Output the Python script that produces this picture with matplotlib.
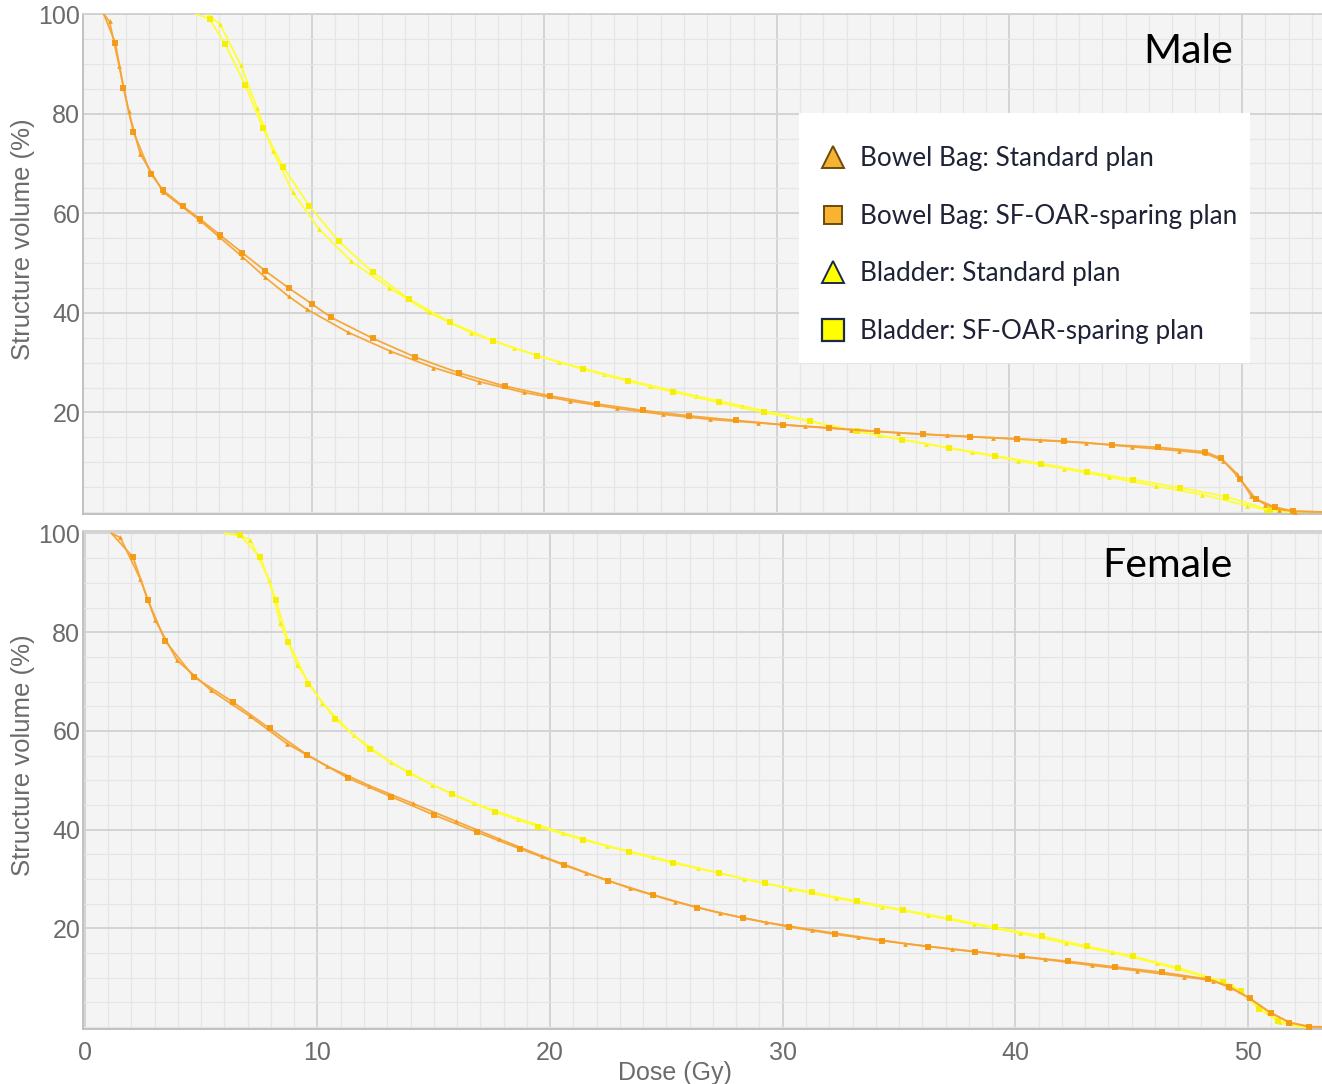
import matplotlib.pyplot as plt
from matplotlib.lines import Line2D
from matplotlib.patches import Rectangle
from matplotlib.ticker import MultipleLocator

# Dose-volume histograms (dose in Gy, volume in %)

# Male - Bowel Bag, standard plan
male_bowel_std_dose = [1.05, 1.3, 1.72, 2.12, 2.62, 3.62, 5.2, 6.0, 7.0, 8.0, 9.0, 9.79, 11.55, 13.37,
                       15.23, 17.17, 19.13, 21.1, 23.12, 25.12, 27.13, 29.2, 31.2, 33.2, 35.2, 37.3,
                       39.3, 41.3, 43.3, 45.26, 47.29, 48.4, 49.2, 49.8, 50.4, 51.0, 51.6, 52.3, 53.5]
male_bowel_std_vol = [100, 98.5, 89.5, 80.5, 71.9, 64.2, 58.5, 55.3, 51.3, 47.1, 43.3, 40.7, 36.1, 32.3,
                      29.0, 26.2, 24.0, 22.3, 20.8, 19.6, 18.6, 17.9, 17.2, 16.5, 15.9, 15.4,
                      14.9, 14.4, 13.9, 13.1, 12.3, 11.8, 10.3, 7.6, 3.2, 1.5, 0.5, 0.1, 0.0]

# Male - Bowel Bag, SF-OAR-sparing plan
male_bowel_sf_dose = [1.05, 1.55, 1.9, 2.33, 3.08, 3.6, 4.46, 5.2, 6.03, 7.0, 8.0, 9.0, 10.0, 10.82,
                      12.61, 14.45, 16.35, 18.29, 20.25, 22.26, 24.23, 26.24, 28.25, 30.28, 32.26,
                      34.29, 36.3, 38.3, 40.34, 42.36, 44.4, 46.37, 48.4, 49.1, 49.9, 50.6, 51.4,
                      52.2, 53.5]
male_bowel_sf_vol = [100, 94.2, 85.2, 76.3, 67.9, 64.6, 61.4, 58.8, 55.7, 52.1, 48.4, 45.0, 41.8, 39.1,
                     34.9, 31.1, 27.9, 25.3, 23.3, 21.7, 20.4, 19.3, 18.4, 17.5, 16.9,
                     16.2, 15.6, 15.1, 14.7, 14.2, 13.5, 13.0, 12.1, 10.8, 6.7, 2.6, 1.0,
                     0.2, 0.0]

# Male - Bladder, standard plan
male_bladder_std_dose = [5.5, 6.06, 6.95, 7.64, 8.33, 9.17, 10.29, 11.68, 13.34, 15.02, 16.84, 18.71,
                         20.65, 22.58, 24.55, 26.53, 28.49, 30.45, 32.43, 34.39, 36.4, 38.38, 40.36,
                         42.35, 44.3, 46.3, 48.27, 50.2, 51.0, 52.0, 53.5]
male_bladder_std_vol = [100, 97.9, 89.7, 81.2, 72.5, 64.3, 56.9, 50.4, 45.0, 40.1, 36.0, 32.9,
                        30.1, 27.7, 25.4, 23.3, 21.3, 19.3, 17.2, 15.4, 13.7, 12.0, 10.3,
                        8.7, 7.0, 5.2, 3.5, 1.3, 0.5, 0.0, 0.0]

# Male - Bladder, SF-OAR-sparing plan
male_bladder_sf_dose = [5.0, 5.6, 6.28, 7.14, 7.88, 8.78, 9.89, 11.15, 12.61, 14.2, 15.95, 17.79, 19.7,
                        21.65, 23.59, 25.55, 27.49, 29.46, 31.43, 33.43, 35.4, 37.4, 39.38, 41.36,
                        43.35, 45.33, 47.33, 49.3, 51.2, 52.2, 53.5]
male_bladder_sf_vol = [100, 99.0, 93.9, 85.7, 77.2, 69.2, 61.5, 54.4, 48.2, 42.7, 38.1, 34.4, 31.4,
                       28.7, 26.3, 24.1, 22.0, 20.0, 18.2, 16.2, 14.5, 12.9, 11.3, 9.7,
                       8.1, 6.5, 4.9, 3.1, 0.4, 0.0, 0.0]

# Female - Bowel Bag, standard plan
female_bowel_std_dose = [1.15, 1.52, 2.38, 3.03, 3.96, 5.43, 7.08, 8.69, 10.43, 12.23, 14.1, 15.95, 17.81,
                         19.67, 21.53, 23.44, 25.37, 27.3, 29.28, 31.25, 33.25, 35.26, 37.26, 39.24,
                         41.27, 43.28, 45.24, 47.25, 48.5, 49.22, 50.0, 50.9, 51.8, 52.73, 53.5]
female_bowel_std_vol = [100, 99.2, 90.8, 82.4, 74.3, 68.2, 63.0, 57.4, 52.8, 48.9, 45.3, 41.7, 38.1,
                        34.6, 31.3, 28.1, 25.4, 23.1, 21.2, 19.7, 18.3, 16.9, 15.8, 14.7,
                        13.7, 12.5, 11.4, 10.2, 9.4, 8.0, 6.0, 3.1, 0.9, 0.0, 0.0]

# Female - Bowel Bag, SF-OAR-sparing plan
female_bowel_sf_dose = [1.15, 2.07, 2.71, 3.46, 4.67, 6.35, 7.94, 9.57, 11.33, 13.15, 14.99, 16.85, 18.71,
                        20.6, 22.5, 24.41, 26.33, 28.28, 30.28, 32.25, 34.25, 36.26, 38.26, 40.27,
                        42.27, 44.28, 46.29, 48.26, 49.2, 50.08, 51.0, 51.77, 52.6, 53.5]
female_bowel_sf_vol = [100, 95.2, 86.5, 78.2, 71.0, 65.9, 60.5, 55.1, 50.4, 46.7, 43.0, 39.5, 36.1,
                       32.8, 29.6, 26.8, 24.2, 22.1, 20.3, 18.8, 17.5, 16.3, 15.3, 14.3,
                       13.3, 12.2, 11.1, 9.7, 8.2, 5.8, 2.8, 0.9, 0.1, 0.0]

# Female - Bladder, standard plan
female_bladder_std_dose = [6.03, 6.68, 7.11, 7.93, 8.4, 9.14, 10.19, 11.55, 13.15, 14.92, 16.74, 18.64,
                           20.57, 22.46, 24.44, 26.37, 28.35, 30.31, 32.29, 34.25, 36.26, 38.22, 40.2,
                           42.17, 44.14, 46.1, 48.05, 49.3, 50.04, 51.37, 52.2, 53.5]
female_bladder_std_vol = [100, 99.6, 98.7, 90.5, 81.8, 73.3, 65.7, 59.1, 53.6, 49.1, 45.3, 42.2,
                          39.3, 36.7, 34.4, 32.2, 30.0, 28.0, 26.1, 24.4, 22.6, 20.8, 19.0,
                          17.0, 15.1, 12.9, 10.3, 8.5, 5.8, 1.1, 0.0, 0.0]

# Female - Bladder, SF-OAR-sparing plan
female_bladder_sf_dose = [6.03, 6.68, 7.54, 8.21, 8.75, 9.61, 10.76, 12.26, 13.95, 15.78, 17.61, 19.5,
                          21.43, 23.37, 25.3, 27.27, 29.24, 31.25, 33.2, 35.18, 37.16, 39.12, 41.13,
                          43.07, 45.07, 47.0, 48.94, 49.7, 50.48, 51.3, 52.23, 53.5]
female_bladder_sf_vol = [100, 99.6, 95.2, 86.6, 78.0, 69.6, 62.4, 56.3, 51.4, 47.2, 43.6, 40.6,
                         37.9, 35.5, 33.2, 31.2, 29.1, 27.3, 25.5, 23.7, 22.0, 20.2, 18.4,
                         16.4, 14.3, 12.0, 9.15, 7.2, 3.6, 1.2, 0.0, 0.0]

legend_labels = ["Bowel Bag: Standard plan", "Bowel Bag: SF-OAR-sparing plan",
                 "Bladder: Standard plan", "Bladder: SF-OAR-sparing plan"]
y_ticks = [20, 40, 60, 80, 100]
x_ticks = [0, 10, 20, 30, 40, 50]

# colours
orange_line = '#F7A535'
orange_mark = '#F39A10'
yellow_line = '#FFFF2E'
yellow_mark = '#F6EE00'
tick_grey = '#6b6b6b'

plt.rcParams['font.family'] = ['Liberation Sans', 'DejaVu Sans']

W, H = 1322, 1084
fig = plt.figure(figsize=(W / 100, H / 100), dpi=100)
ax_top = fig.add_axes([83 / W, (H - 514) / H, 1 - 83 / W, 500 / H])
ax_bot = fig.add_axes([83 / W, (H - 1028.5) / H, 1 - 83 / W, 497 / H])


def draw_curve(ax, dose, vol, color, mcolor, marker, ms):
    # markers only where the curve is off the 100 / 0 limits
    idx = [i for i, v in enumerate(vol) if 0 < v < 100]
    ax.plot(dose, vol, color=color, lw=1.3, alpha=0.95, zorder=3,
            marker=marker, markevery=idx, ms=ms, mfc=mcolor, mec=mcolor, mew=0)


def style_axes(ax, xlim, ylim):
    ax.set_facecolor('#f4f4f4')
    ax.set_xlim(*xlim)
    ax.set_ylim(*ylim)
    ax.xaxis.set_major_locator(MultipleLocator(10))
    ax.xaxis.set_minor_locator(MultipleLocator(1))
    ax.set_yticks(y_ticks)
    ax.yaxis.set_minor_locator(MultipleLocator(5))
    ax.grid(which='major', color='#d4d4d4', lw=1.4, zorder=0)
    ax.grid(which='minor', color='#e5e5e5', lw=0.9, zorder=0)
    ax.set_axisbelow(True)
    ax.tick_params(which='both', length=0, labelsize=18, colors=tick_grey)
    ax.tick_params(axis='y', pad=2)
    ax.spines['right'].set_visible(False)
    ax.spines['top'].set_color('#d0d0d0')
    ax.spines['left'].set_color('#bdbdbd')
    ax.spines['bottom'].set_color('#bdbdbd')
    for s in ['top', 'left', 'bottom']:
        ax.spines[s].set_linewidth(1.3)
    ax.set_ylabel("Structure volume (%)", fontsize=18.5, color=tick_grey)
    ax.yaxis.set_label_coords(-0.039, 0.55)


panels = [
    (ax_top, (0.16, 53.44), (-0.4, 100),
     male_bowel_std_dose, male_bowel_std_vol, male_bowel_sf_dose, male_bowel_sf_vol,
     male_bladder_std_dose, male_bladder_std_vol, male_bladder_sf_dose, male_bladder_sf_vol,
     "Male", 0.925),
    (ax_bot, (-0.08, 53.18), (-0.3, 100.4),
     female_bowel_std_dose, female_bowel_std_vol, female_bowel_sf_dose, female_bowel_sf_vol,
     female_bladder_std_dose, female_bladder_std_vol, female_bladder_sf_dose, female_bladder_sf_vol,
     "Female", 0.932),
]

for (ax, xlim, ylim, bd, bv, bsd, bsv, ld, lv, lsd, lsv, title, ty) in panels:
    style_axes(ax, xlim, ylim)
    draw_curve(ax, ld, lv, yellow_line, yellow_mark, '^', 3.4)
    draw_curve(ax, lsd, lsv, yellow_line, yellow_mark, 's', 3.8)
    draw_curve(ax, bd, bv, orange_line, orange_mark, '^', 3.4)
    draw_curve(ax, bsd, bsv, orange_line, orange_mark, 's', 3.8)
    ax.text(0.928, ty, title, transform=ax.transAxes, ha='right', va='center',
            fontsize=29.5, family=['Lato', 'DejaVu Sans'], color='black')

ax_top.tick_params(axis='x', labelbottom=False)
ax_bot.set_xticks(x_ticks)
ax_bot.tick_params(axis='x', pad=9)
ax_bot.set_xlabel("Dose (Gy)", fontsize=18, color=tick_grey)
ax_bot.xaxis.set_label_coords(0.478, -0.066)

# legend in the male panel: white box, then entries without their own frame
ax_top.add_patch(Rectangle((799 / W, (H - 363) / H), 451 / W, 250 / H, transform=fig.transFigure,
                           facecolor='white', edgecolor='none', zorder=5, clip_on=False))
handles = [
    Line2D([], [], ls='none', marker='^', ms=16, mfc='#F5B335', mec='#6b4a0a', mew=1.4),
    Line2D([], [], ls='none', marker='s', ms=13, mfc='#F8B330', mec='#6b4a0a', mew=1.4),
    Line2D([], [], ls='none', marker='^', ms=16, mfc='#FFFF00', mec='#1c2a48', mew=1.4),
    Line2D([], [], ls='none', marker='s', ms=16, mfc='#FFFF00', mec='#1c2a48', mew=1.6),
]
leg = ax_top.legend(handles, legend_labels, loc='upper left',
                    bbox_to_anchor=(820 / W, (H - 146) / H), bbox_transform=fig.transFigure,
                    frameon=False, prop={'family': ['Lato', 'DejaVu Sans'], 'size': 18.8},
                    labelspacing=1.25, handletextpad=0.55, handlelength=1.0,
                    borderpad=0, borderaxespad=0)
leg.set_zorder(6)
for t in leg.get_texts():
    t.set_color('#1e2235')

fig.savefig('out.png', dpi=100)
plt.close(fig)
